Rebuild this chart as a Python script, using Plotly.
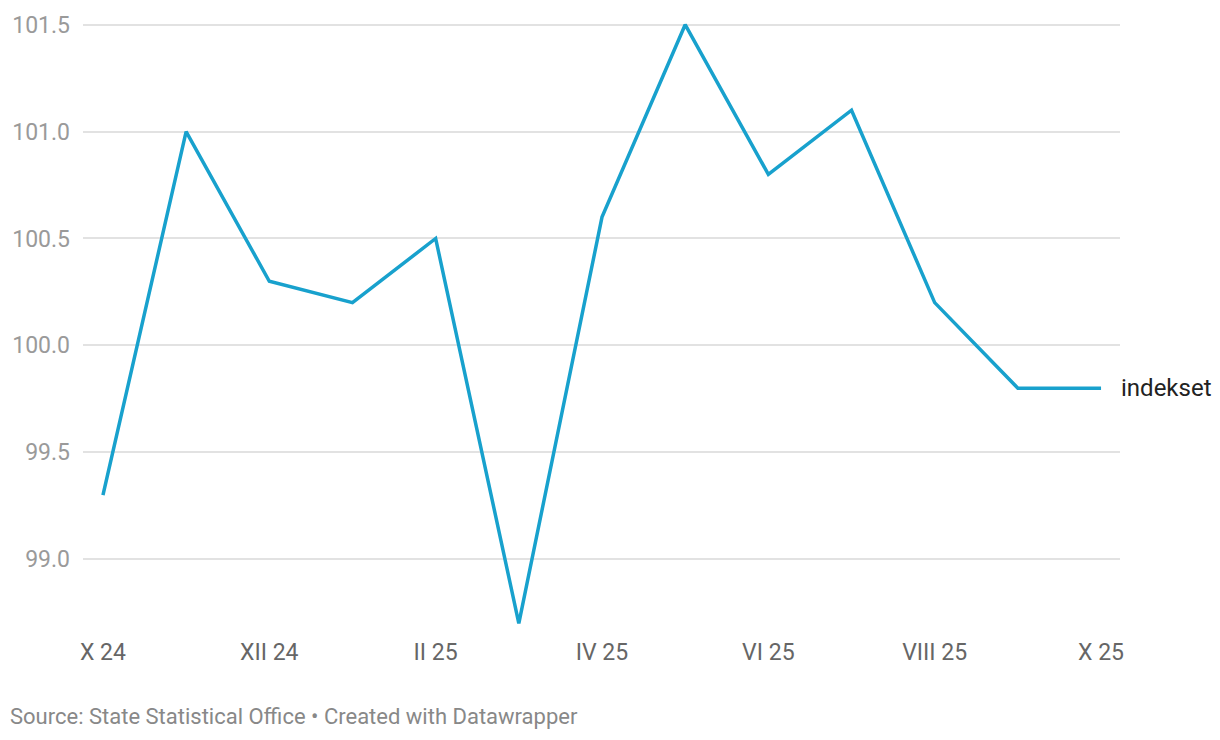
import plotly.graph_objects as go

months = ["X 24", "XI 24", "XII 24", "I 25", "II 25", "III 25", "IV 25",
          "V 25", "VI 25", "VII 25", "VIII 25", "IX 25", "X 25"]
values = [99.3, 101.0, 100.3, 100.2, 100.5, 98.7, 100.6, 101.5, 100.8, 101.1, 100.2, 99.8, 99.8]
tick_labels = ["X 24", "XII 24", "II 25", "IV 25", "VI 25", "VIII 25", "X 25"]
y_ticks = [99.0, 99.5, 100.0, 100.5, 101.0, 101.5]
series_name = "indekset"

fig = go.Figure()
fig.add_trace(go.Scatter(
    x=months, y=values, mode="lines", name=series_name,
    line=dict(color="#18a1cd", width=3.5), hoverinfo="x+y",
))

fig.add_annotation(
    x=months[-1], y=values[-1], text=series_name, showarrow=False,
    xanchor="left", yanchor="middle", xshift=18,
    font=dict(family="Roboto", size=24, color="#222222"),
)
fig.add_annotation(
    x=0, y=0, xref="paper", yref="paper", xshift=-75, yshift=-82,
    text="Source: State Statistical Office • Created with Datawrapper",
    showarrow=False, xanchor="left", yanchor="middle",
    font=dict(family="Roboto", size=22, color="#888888"),
)

fig.update_layout(
    width=1220, height=740,
    margin=dict(l=74, r=108, t=4, b=114),
    paper_bgcolor="white", plot_bgcolor="white",
    showlegend=False,
    font=dict(family="Roboto"),
    xaxis=dict(
        type="category", range=[-0.24, 12.228],
        tickvals=tick_labels, ticktext=tick_labels,
        showgrid=False, zeroline=False, showline=False, ticks="",
        tickfont=dict(size=23, color="#666666"), ticklabelstandoff=2,
    ),
    yaxis=dict(
        range=[98.65, 101.55], tickvals=y_ticks,
        ticktext=[f"{v:.1f}" for v in y_ticks],
        showgrid=True, gridcolor="#e2e2e2", gridwidth=1.5,
        zeroline=False, showline=False, ticks="",
        tickfont=dict(size=23, color="#9a9a9a"), ticklabelstandoff=12,
    ),
)

fig.write_html("out.html")
